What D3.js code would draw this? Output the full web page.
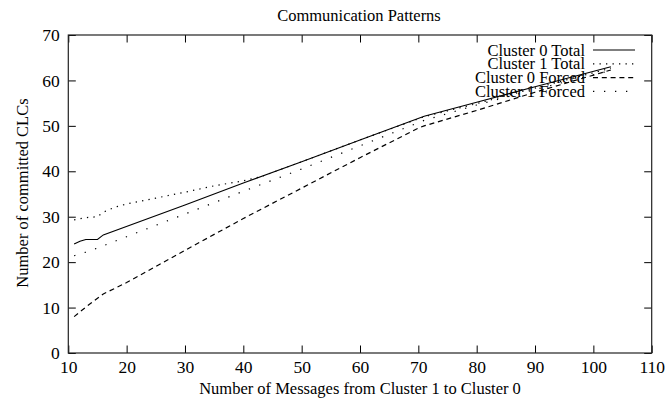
<!DOCTYPE html>
<html>
<head>
  <meta charset="utf-8">
  <title>Communication Patterns</title>
  <style>
    body { margin: 0; background: #fff; }
    svg text { font-family: "Liberation Serif", "DejaVu Serif", serif; fill: #000; }
  </style>
</head>
<body>
  <svg id="chart" width="667" height="402"></svg>

  <script src="https://d3js.org/d3.v7.min.js"></script>
  <script>
    /******* Data *******/

    var xTicks = [10, 20, 30, 40, 50, 60, 70, 80, 90, 100, 110];
    var yTicks = [0, 10, 20, 30, 40, 50, 60, 70];

    var seriesNames = ["Cluster 0 Total", "Cluster 1 Total", "Cluster 0 Forced", "Cluster 1 Forced"];

    var cluster0Total = [[11, 24], [12, 24.6], [13, 25], [15, 25], [16, 26], [30, 32.6], [40, 37.4],
      [50, 42.1], [60, 46.9], [71, 52.1], [80, 55.2], [90, 58.6], [103, 63]];
    var cluster1Total = [[11, 29.3], [13, 29.8], [15, 30], [16, 31], [18, 32.1], [20, 32.8], [25, 34.1],
      [30, 35.4], [35, 36.8], [40, 37.9], [43, 38.8], [50, 42.1], [60, 46.9], [71, 52],
      [80, 54.9], [90, 58.3], [103, 62.7]];
    var cluster0Forced = [[11, 8], [13, 10.1], [16, 13], [20, 15.5], [30, 22.6], [40, 29.6], [50, 36.3],
      [60, 43], [70, 49.5], [71, 50], [80, 53.4], [90, 57.4], [103, 62.3]];
    var cluster1Forced = [[11, 21.4], [13, 22.2], [15, 23.1], [20, 25.6], [30, 30.6], [40, 35.6],
      [50, 40.5], [60, 45.6], [71, 51.2], [80, 54.6], [90, 58], [103, 62.2]];

    var seriesData = [cluster0Total, cluster1Total, cluster0Forced, cluster1Forced];
    var seriesDash = [null, "1.3,5.2", "5,3.8", "1.3,9.7"];

    /******* Setup *******/

    var svg = d3.select("svg"),
        margin = {top: 35, right: 15.3, bottom: 49, left: 68.3},
        width = +svg.attr("width") - margin.left - margin.right,
        height = +svg.attr("height") - margin.top - margin.bottom,
        graph = svg.append("g").attr("transform", "translate(" + margin.left + "," + margin.top + ")");

    var x = d3.scaleLinear().domain([10, 110]).range([0, width]);
    var y = d3.scaleLinear().domain([0, 70]).range([height, 0]);

    var tickLen = 7.5;

    //Inward ticks on all four sides, gnuplot style
    var bottomAxis = graph.append("g")
      .attr("transform", "translate(0," + height + ")")
      .call(d3.axisBottom(x).tickValues(xTicks).tickSizeInner(-tickLen).tickSizeOuter(0).tickPadding(8));
    var leftAxis = graph.append("g")
      .call(d3.axisLeft(y).tickValues(yTicks).tickSizeInner(-tickLen).tickSizeOuter(0).tickPadding(8.5));
    var topAxis = graph.append("g")
      .call(d3.axisTop(x).tickValues(xTicks).tickSizeInner(-tickLen).tickSizeOuter(0));
    var rightAxis = graph.append("g")
      .attr("transform", "translate(" + width + ",0)")
      .call(d3.axisRight(y).tickValues(yTicks).tickSizeInner(-tickLen).tickSizeOuter(0));

    topAxis.selectAll("text").remove();
    rightAxis.selectAll("text").remove();
    graph.selectAll(".domain").remove();
    graph.selectAll(".tick line").attr("stroke", "#000").attr("stroke-width", 1);
    bottomAxis.attr("font-family", null).attr("font-size", null);
    leftAxis.attr("font-family", null).attr("font-size", null);
    bottomAxis.selectAll("text").style("font-size", "17.5px");
    leftAxis.selectAll("text").style("font-size", "17.5px");

    //Frame
    graph.append("rect")
      .attr("width", width)
      .attr("height", height)
      .attr("fill", "none")
      .attr("stroke", "#222")
      .attr("stroke-width", 1.2);

    /******* Lines *******/

    var line = d3.line()
      .x(function(d) { return x(d[0]); })
      .y(function(d) { return y(d[1]); });

    graph.selectAll(".series")
      .data(seriesData)
      .enter().append("path")
      .attr("class", "series")
      .attr("d", line)
      .attr("fill", "none")
      .attr("stroke", "#000")
      .attr("stroke-width", function(d, i) { return i == 0 ? 1.1 : 1.2; })
      .attr("stroke-dasharray", function(d, i) { return seriesDash[i]; });

    /******* Legend *******/

    var legend = graph.append("g")
      .selectAll("g")
      .data(seriesNames)
      .enter().append("g")
      .attr("transform", function(d, i) {
        return "translate(0," + (15 + i * 13.8) + ")";
      });

    legend.append("text")
      .attr("x", 585 - margin.left)
      .attr("y", 5.5)
      .attr("text-anchor", "end")
      .style("font-size", "16.5px")
      .text(function(d) { return d; });

    legend.append("line")
      .attr("x1", 593 - margin.left)
      .attr("x2", 635 - margin.left)
      .attr("stroke", "#000")
      .attr("stroke-width", 1.2)
      .attr("stroke-dasharray", function(d, i) { return seriesDash[i]; });

    /******* Titles *******/

    svg.append("text")
      .attr("x", 359)
      .attr("y", 20.5)
      .attr("text-anchor", "middle")
      .style("font-size", "16.5px")
      .text("Communication Patterns");

    svg.append("text")
      .attr("x", 360)
      .attr("y", 394)
      .attr("text-anchor", "middle")
      .style("font-size", "16.5px")
      .text("Number of Messages from Cluster 1 to Cluster 0");

    svg.append("text")
      .attr("transform", "translate(28,193) rotate(-90)")
      .attr("text-anchor", "middle")
      .style("font-size", "16.5px")
      .text("Number of committed CLCs");
  </script>
</body>
</html>
